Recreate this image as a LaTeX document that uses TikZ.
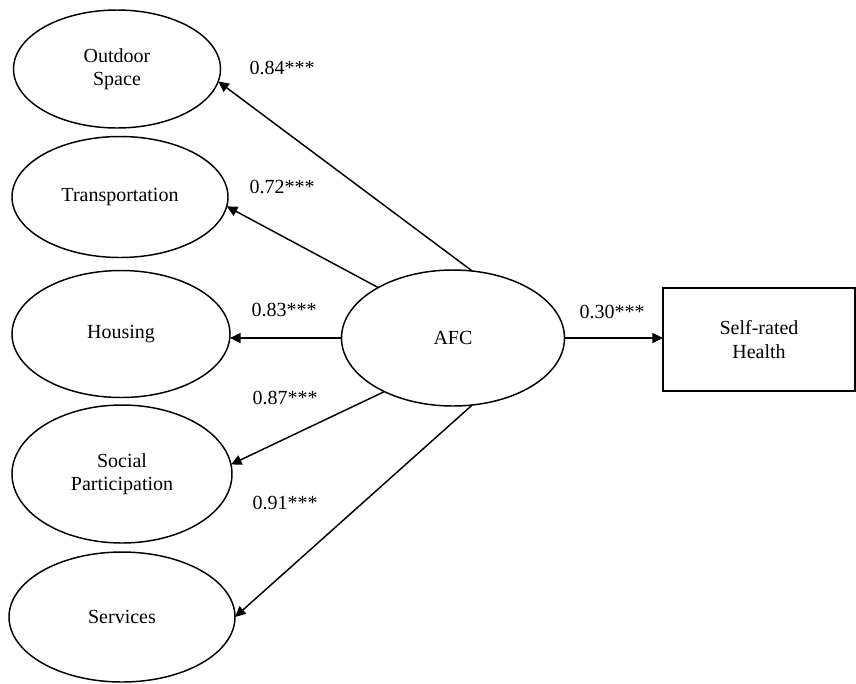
\documentclass[tikz,border=0pt]{standalone}
\usepackage{fontspec}
\setmainfont{Liberation Serif}
\usetikzlibrary{shapes.geometric,arrows.meta}
\begin{document}
\begin{tikzpicture}[x=0.75pt,y=-0.75pt,
  every node/.style={font=\fontsize{15}{17.5}\selectfont, align=center, inner sep=0pt, outer sep=0pt},
  latent/.style={ellipse, draw, line width=1.1pt},
  observed/.style={rectangle, draw, line width=1.1pt},
  path/.style={line width=1.1pt, -{Triangle[length=8pt,width=7.5pt]}},
  coef/.style={}]
\useasboundingbox (0,0) rectangle (856,683);
\node[latent, minimum width=155.25pt, minimum height=88.5pt] (out) at (117,69) {Outdoor\\Space};
\node[latent, minimum width=162pt, minimum height=90.75pt] (tra) at (120,197) {Transportation};
\node[latent, minimum width=163.5pt, minimum height=95.25pt] (hou) at (121,334) {Housing};
\node[latent, minimum width=165pt, minimum height=103.5pt] (soc) at (122,474) {Social\\Participation};
\node[latent, minimum width=169.5pt, minimum height=97.5pt] (ser) at (122,617) {Services};
\node[latent, minimum width=167.25pt, minimum height=102pt] (afc) at (453,338) {AFC};
\node[observed, minimum width=144pt, minimum height=77.25pt] (srh) at (759,339.5) {Self-rated\\Health};

\draw[path] (afc.74.4) -- (out.-7);
\draw[path] (afc.146.7) -- (tra.-5.2);
\draw[path] (afc.west) -- (afc.west -| hou.east);
\draw[path] (afc.218.2) -- (soc.5.7);
\draw[path] (afc.286.6) -- (ser.east);
\draw[path] (afc.east) -- (srh.west |- afc.east);

\node[coef] (c1) at (282,68) {0.84***};
\node[coef] (c2) at (282,187) {0.72***};
\node[coef] (c3) at (284,310) {0.83***};
\node[coef] (c4) at (285,398) {0.87***};
\node[coef] (c5) at (285,503) {0.91***};
\node[coef] (c6) at (612,312) {0.30***};
\end{tikzpicture}
\end{document}
